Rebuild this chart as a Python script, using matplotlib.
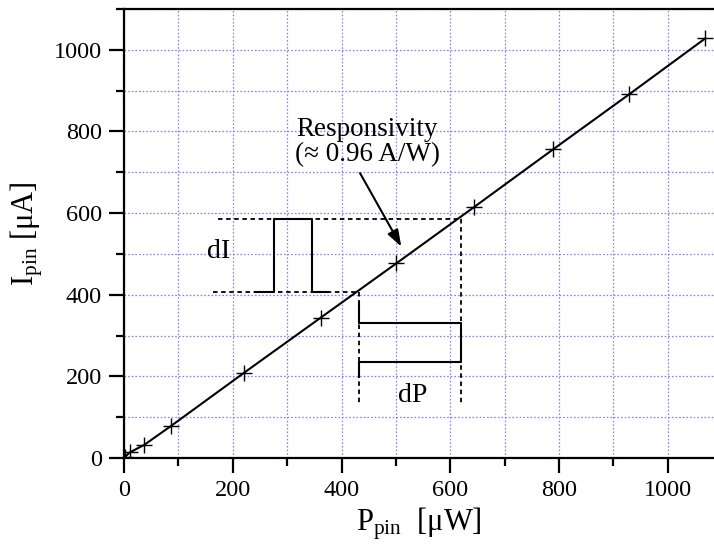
import matplotlib
matplotlib.use("Agg")
import matplotlib.pyplot as plt
from matplotlib.ticker import MultipleLocator

plt.rcParams['font.family'] = ['Liberation Serif', 'DejaVu Serif']
plt.rcParams['mathtext.fontset'] = 'custom'
plt.rcParams['mathtext.rm'] = 'Liberation Serif'
plt.rcParams['mathtext.it'] = 'Liberation Serif:italic'

# measured data
P_pin = [0, 2, 11, 37, 86, 221, 362, 501, 643, 789, 929, 1069]
I_pin = [0, 3, 14, 32, 78, 209, 344, 477, 614, 756, 891, 1028]

# dI pulse illustration
dI_P = [241, 276, 276, 345, 345, 375]
dI_I = [407, 407, 585, 585, 407, 407]
dI_upper = ([173, 621], [585, 585])
dI_lower = ([164, 431], [407, 407])

# dP pulse illustration
dP_P = [432, 432, 619, 619, 432, 432]
dP_I = [383, 330, 330, 235, 235, 199]
dP_left = ([432, 432], [407, 130])
dP_right = ([620, 620], [585, 130])

fig = plt.figure(figsize=(7.14, 5.53), dpi=100)
ax = fig.add_axes([124/714, 95/553, 590/714, 449/553])

ax.set_xlim(0, 1085)
ax.set_ylim(0, 1100)
ax.xaxis.set_major_locator(MultipleLocator(200))
ax.xaxis.set_minor_locator(MultipleLocator(100))
ax.yaxis.set_major_locator(MultipleLocator(200))
ax.yaxis.set_minor_locator(MultipleLocator(100))
ax.grid(which='both', color='#8080ff', linestyle=(0, (1.3, 1.6)), linewidth=0.9)
ax.set_axisbelow(True)

for s in ['left', 'bottom', 'top']:
    ax.spines[s].set_linewidth(1.6)
ax.spines['right'].set_visible(False)

ax.tick_params(which='major', direction='out', length=11, width=1.6, labelsize=17.5, pad=5)
ax.tick_params(which='minor', direction='out', length=5.5, width=1.6)
ax.tick_params(top=False, right=False, which='both')

ax.plot(P_pin, I_pin, color='black', linewidth=1.5, marker='+', markersize=11,
        markeredgewidth=1.0, zorder=3)

dash = (0, (2.5, 2.0))
ax.plot(*dI_upper, color='black', linestyle=dash, linewidth=1.3)
ax.plot(*dI_lower, color='black', linestyle=dash, linewidth=1.3)
ax.plot(dI_P, dI_I, color='black', linewidth=1.5)
ax.plot(*dP_left, color='black', linestyle=dash, linewidth=1.3)
ax.plot(*dP_right, color='black', linestyle=dash, linewidth=1.3)
ax.plot(dP_P, dP_I, color='black', linewidth=1.5)

ax.text(173, 507, 'dI', fontsize=20, ha='center', va='center')
ax.text(531, 154, 'dP', fontsize=20, ha='center', va='center')
ax.text(447, 775, 'Responsivity\n(\u2248 0.96 A/W)', fontsize=19.5, ha='center',
        va='center', linespacing=1.0)
ax.annotate('', xy=(510, 518), xytext=(434, 698),
            arrowprops=dict(arrowstyle='-|>,head_length=1.0,head_width=0.35',
                            color='black', linewidth=1.5, shrinkA=0, shrinkB=0))

ax.set_xlabel('P$_{\\rm pin}$  [\u03bcW]', fontsize=22, labelpad=3)
ax.set_ylabel('I$_{\\rm pin}$ [\u03bcA]', fontsize=22, labelpad=6)

fig.savefig('out.png', dpi=100)
